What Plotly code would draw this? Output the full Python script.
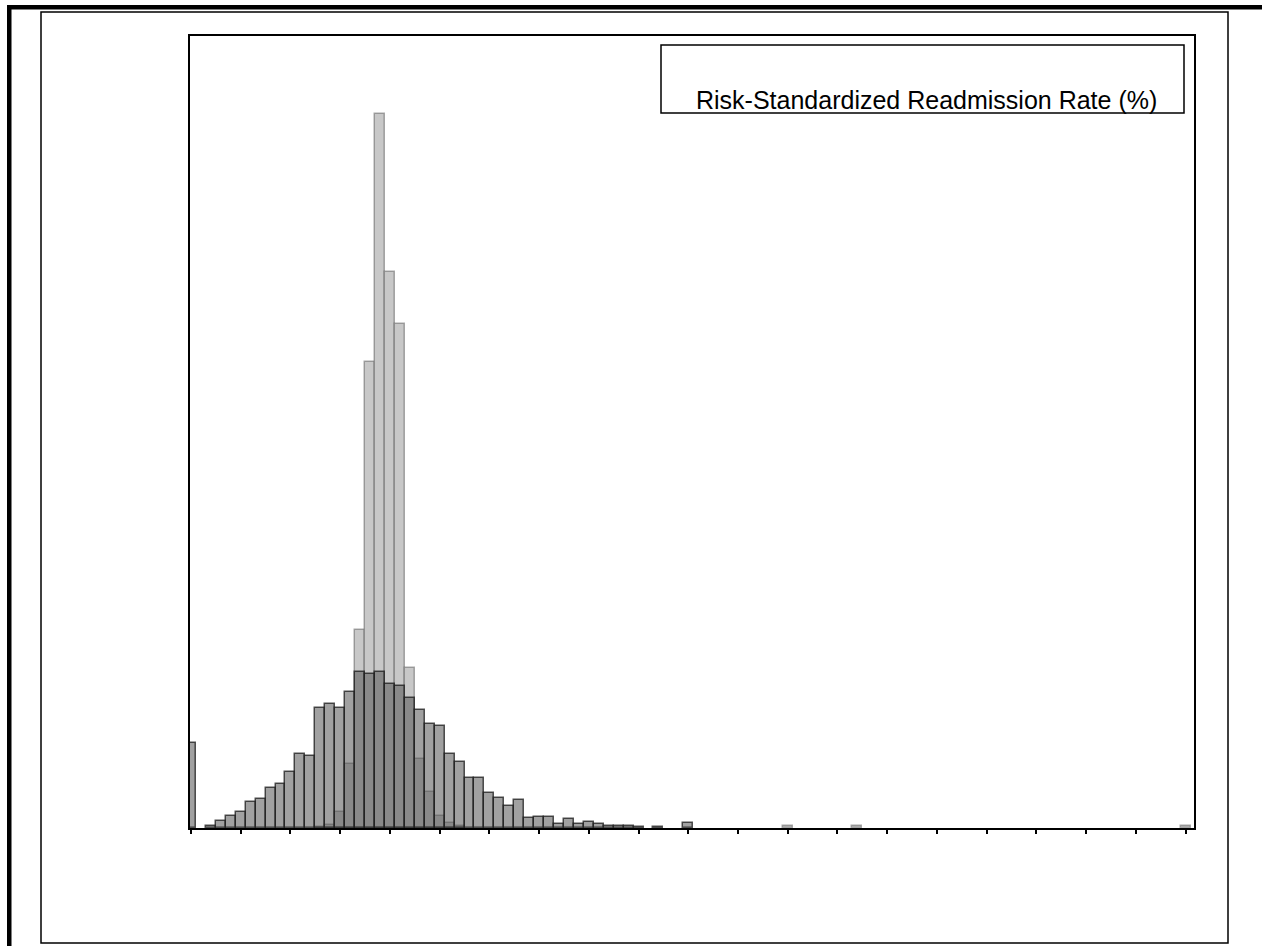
import plotly.graph_objects as go

# Histogram bin positions (bin index; ticks every 5 bins, no labels shown)
bins = list(range(0, 101))
tick_bins = list(range(0, 101, 5))

# Narrow distribution (light gray)
light_counts = [
    0, 0, 0, 0, 0, 0, 0, 0, 0, 0,
    0, 0, 0, 0.6, 1.5, 8, 32, 99, 233, 357,
    278, 252, 80, 34.5, 18, 6, 2.5, 0.8, 0, 0,
    0, 0, 0, 0, 0, 0, 0, 0, 0, 0,
    0, 0, 0, 0, 0, 0, 0, 0, 0, 0,
    0, 0, 0, 0, 0, 0, 0, 0, 0, 0,
    0.8, 0, 0, 0, 0, 0, 0, 0.8, 0, 0,
    0, 0, 0, 0, 0, 0, 0, 0, 0, 0,
    0, 0, 0, 0, 0, 0, 0, 0, 0, 0,
    0, 0, 0, 0, 0, 0, 0, 0, 0, 0,
    0.8,
]

# Wide distribution (dark gray)
dark_counts = [
    42.5, 0, 1, 3.3, 6, 8, 13, 14.5, 20, 22,
    28, 37, 36, 60, 62, 60, 68, 78, 77, 78,
    72, 71, 65, 59, 52, 51, 37, 33, 25, 25,
    17.5, 15, 11, 14, 5, 5.3, 5.3, 2, 4.7, 2,
    3, 2, 1, 1, 1, 0.6, 0, 0.6, 0, 0,
    2.5, 0, 0, 0, 0, 0, 0, 0, 0, 0,
    0, 0, 0, 0, 0, 0, 0, 0, 0, 0,
    0, 0, 0, 0, 0, 0, 0, 0, 0, 0,
    0, 0, 0, 0, 0, 0, 0, 0, 0, 0,
    0, 0, 0, 0, 0, 0, 0, 0, 0, 0,
    0,
]

legend_text = "Risk-Standardized Readmission Rate (%)"


def nz(vals):
    return [v if v > 0 else None for v in vals]


fig = go.Figure()
fig.add_trace(go.Bar(
    x=bins, y=nz(light_counts), width=1,
    marker=dict(color="#c8c8c8", line=dict(color="rgba(100,100,100,0.55)", width=1.5)),
    showlegend=False, name="narrow",
))
fig.add_trace(go.Bar(
    x=bins, y=nz(dark_counts), width=1,
    marker=dict(color="rgba(87,87,87,0.56)", line=dict(color="rgba(25,25,25,0.75)", width=1.5)),
    showlegend=False, name="wide",
))

L, R, T, B = 190, 1194, 36, 828
PW, PH = R - L, B - T


def px(x):
    return (x - L) / PW


def py(y):
    return (B - y) / PH


shapes = [
    # thick top rule
    dict(type="rect", xref="paper", yref="paper", x0=px(7), x1=px(1262), y0=py(9.5), y1=py(5),
         fillcolor="black", line=dict(width=0), layer="above"),
    # thick left rule
    dict(type="rect", xref="paper", yref="paper", x0=px(7), x1=px(11.5), y0=py(946), y1=py(5),
         fillcolor="black", line=dict(width=0), layer="above"),
    # inner frame
    dict(type="rect", xref="paper", yref="paper", x0=px(41), x1=px(1228), y0=py(943), y1=py(12),
         line=dict(color="black", width=1.5), layer="above"),
    # legend box
    dict(type="rect", xref="paper", yref="paper", x0=px(661), x1=px(1184), y0=py(113), y1=py(45),
         line=dict(color="black", width=1.5), fillcolor="white", layer="above"),
]

fig.update_layout(
    width=1262, height=946,
    margin=dict(l=L, r=1262 - R, t=T, b=946 - B, pad=0),
    paper_bgcolor="white", plot_bgcolor="white",
    barmode="overlay", bargap=0,
    shapes=shapes,
    annotations=[dict(
        text=legend_text, xref="paper", yref="paper",
        x=px(926), y=py(100), xanchor="center", yanchor="middle",
        showarrow=False, font=dict(family="Liberation Sans, Arial, sans-serif", size=25, color="black"),
    )],
    font=dict(family="Liberation Sans, Arial, sans-serif"),
)
fig.update_xaxes(
    range=[-0.1, 100.85], tickmode="array", tickvals=tick_bins, showticklabels=False,
    ticks="outside", ticklen=4, tickwidth=1.5, tickcolor="black",
    showline=True, linecolor="black", linewidth=2, mirror=True,
    showgrid=False, zeroline=False,
)
fig.update_yaxes(
    range=[0, PH / 2], showticklabels=False, ticks="",
    showline=True, linecolor="black", linewidth=2, mirror=True,
    showgrid=False, zeroline=False,
)

fig.write_html(
    "out.html",
    config={"displayModeBar": False},
    post_script="document.body.style.margin='0';",
)
